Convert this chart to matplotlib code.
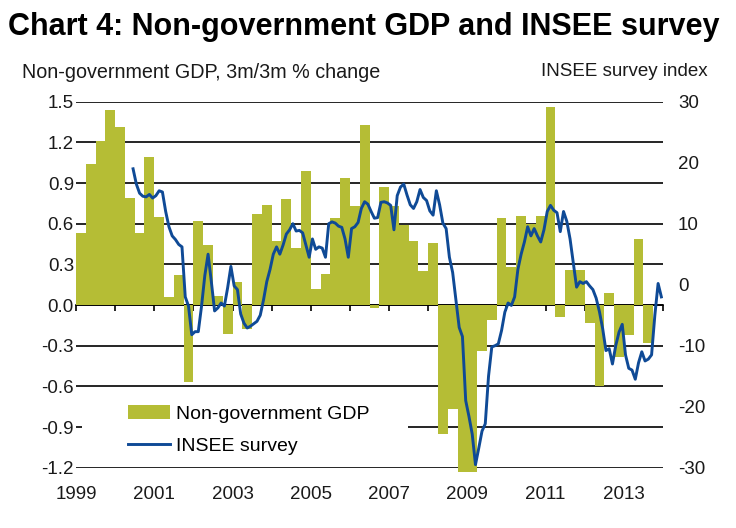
import matplotlib
matplotlib.use('Agg')
import matplotlib.pyplot as plt
import pandas as pd
from matplotlib.patches import Rectangle, Patch
from matplotlib.lines import Line2D

plt.rcParams['font.family'] = ['Liberation Sans', 'DejaVu Sans']
plt.rcParams['axes.unicode_minus'] = False

# ---------------- data ----------------
title = "Chart 4: Non-government GDP and INSEE survey"
left_label = "Non-government GDP, 3m/3m % change"
right_label = "INSEE survey index"
gdp_name = "Non-government GDP"
insee_name = "INSEE survey"

gdp_start = "1999Q1"
gdp_values = [
    0.53, 1.04, 1.21, 1.44,
    1.31, 0.79, 0.53, 1.09,
    0.65, 0.06, 0.22, -0.57,
    0.62, 0.44, 0.07, -0.21,
    0.17, -0.18, 0.67, 0.74,
    0.47, 0.78, 0.42, 0.99,
    0.12, 0.23, 0.64, 0.94,
    0.73, 1.33, -0.02, 0.87,
    0.73, 0.59, 0.47, 0.25,
    0.46, -0.95, -0.77, -1.23,
    -1.23, -0.34, -0.11, 0.64,
    0.28, 0.66, 0.60, 0.66,
    1.46, -0.09, 0.26, 0.26,
    -0.13, -0.60, 0.09, -0.38,
    -0.22, 0.49, -0.28,
]

insee_start = "2000-06"
insee_values = [
    19.0, 16.5, 15.0, 14.5, 14.4, 14.8, 14.2,
    14.6, 15.4, 15.2, 12.0, 9.5, 8.0, 7.4, 6.6, 6.2, -2.0, -3.5, -8.2,
    -7.7, -7.7, -3.5, 1.5, 5.0, 0.5, -4.3, -3.8, -3.0, -3.5, -0.5, 3.0,
    -0.2, -0.8, -4.8, -6.3, -7.1, -6.8, -6.4, -6.0, -5.0, -2.5, 0.5, 2.5,
    5.0, 6.2, 5.0, 6.5, 8.3, 9.0, 10.0, 8.8, 8.9, 8.5, 6.5, 4.5,
    7.5, 5.8, 6.2, 6.0, 4.5, 10.0, 10.3, 10.1, 9.6, 9.4, 7.5, 4.5,
    9.2, 9.5, 10.2, 12.5, 13.6, 13.2, 12.0, 10.9, 11.0, 13.5, 13.6, 13.4,
    13.0, 9.0, 14.6, 16.0, 16.5, 14.7, 13.1, 12.5, 13.6, 15.6, 14.3, 13.8,
    12.1, 11.4, 15.4, 13.1, 10.1, 9.2, 4.5, 2.0, -2.5, -7.0, -8.5, -19.0,
    -21.6, -24.5, -29.5, -26.8, -24.0, -22.8, -15.0, -10.2, -10.0, -9.7, -7.5, -4.5,
    -3.0, -3.4, -2.0, 2.5, 5.0, 7.0, 9.5, 8.0, 9.2, 8.0, 7.0, 9.0,
    12.0, 13.0, 12.2, 11.8, 8.7, 12.0, 10.4, 7.5, 3.5, -0.4, 0.5, 0.2,
    0.5, -0.2, -0.8, -2.2, -4.4, -7.2, -10.8, -10.5, -13.0, -10.0, -7.8, -6.5,
    -11.5, -13.7, -14.0, -15.5, -12.8, -11.0, -12.5, -12.2, -11.5, -5.0, 0.2, -2.0,
]

year_labels = [1999, 2001, 2003, 2005, 2007, 2009, 2011, 2013]
year_ticks = list(range(1999, 2015))
left_ticks = [-1.2, -0.9, -0.6, -0.3, 0.0, 0.3, 0.6, 0.9, 1.2, 1.5]
right_ticks = [-30, -20, -10, 0, 10, 20, 30]

bar_color = '#B5BD35'
line_color = '#0F4A96'

# ---------------- layout ----------------
W, H = 736, 528
L, R, T, B = 76, 663, 101.7, 467.7
fig = plt.figure(figsize=(W / 100, H / 100), dpi=100)
ax = fig.add_axes([L / W, 1 - B / H, (R - L) / W, (B - T) / H])

q = pd.period_range(gdp_start, periods=len(gdp_values), freq='Q')
xq = q.year + (q.quarter - 1) / 4.0
m = pd.period_range(insee_start, periods=len(insee_values), freq='M')
xm = m.year + (m.month - 0.5) / 12.0

ax.bar(xq, gdp_values, width=0.25, align='edge', color=bar_color,
       linewidth=0, zorder=2, clip_on=False)
ax.set_xlim(1999, 2014)
ax.set_ylim(-1.2, 1.5)
ax.set_yticks(left_ticks)
ax.set_yticklabels([f"{v:.1f}" for v in left_ticks])
ax.set_axisbelow(True)
ax.yaxis.grid(True, color='black', linewidth=1.2)
for s in ax.spines.values():
    s.set_visible(False)
ax.tick_params(axis='y', length=0, pad=1.5, labelsize=13.5, colors='#1a1a1a')
ax.set_xticks(year_labels)
ax.set_xticklabels([str(y) for y in year_labels])
ax.tick_params(axis='x', length=0, pad=13.5, labelsize=13.5, colors='#1a1a1a')

# ticks on the zero line
zero_loc = (0 - (-1.2)) / (1.5 - (-1.2))
sec = ax.secondary_xaxis(zero_loc)
sec.set_xticks(year_ticks)
sec.set_xticklabels([''] * len(year_ticks))
sec.tick_params(axis='x', direction='out', length=4, width=1.2, color='black')
for s in sec.spines.values():
    s.set_color('black')
    s.set_linewidth(1.2)

# white box behind legend
ax.add_patch(Rectangle((82 / W, 1 - 460 / H), (408 - 82) / W, (460 - 395) / H,
                       transform=fig.transFigure, facecolor='white',
                       edgecolor='none', zorder=1))

ax2 = ax.twinx()
ax2.plot(xm, insee_values, color=line_color, linewidth=2.1)
ax2.set_ylim(-30, 30)
ax2.set_yticks(right_ticks)
ax2.set_yticklabels([str(v) for v in right_ticks])
for s in ax2.spines.values():
    s.set_visible(False)
ax2.tick_params(axis='y', length=0, pad=10.8, labelsize=13.5, colors='#1a1a1a')

handles = [Patch(facecolor=bar_color, edgecolor='none'),
           Line2D([0], [0], color=line_color, linewidth=2.1)]
ax2.legend(handles, [gdp_name, insee_name], loc='upper left',
           bbox_to_anchor=(128 / W, 1 - 405 / H), bbox_transform=fig.transFigure,
           frameon=False, fontsize=14, handlelength=2.15, handleheight=0.7,
           handletextpad=0.3, labelspacing=0.75, borderpad=0, borderaxespad=0)

fig.text(8 / W, 1 - 27 / H, title, fontsize=22, fontweight='bold',
         va='center', ha='left', color='black')
fig.text(22 / W, 1 - 72 / H, left_label, fontsize=14.2, va='center', ha='left',
         color='#1a1a1a')
fig.text(708 / W, 1 - 72 / H, right_label, fontsize=13.5, va='center', ha='right',
         color='#1a1a1a')

fig.savefig('out.png', dpi=100)
